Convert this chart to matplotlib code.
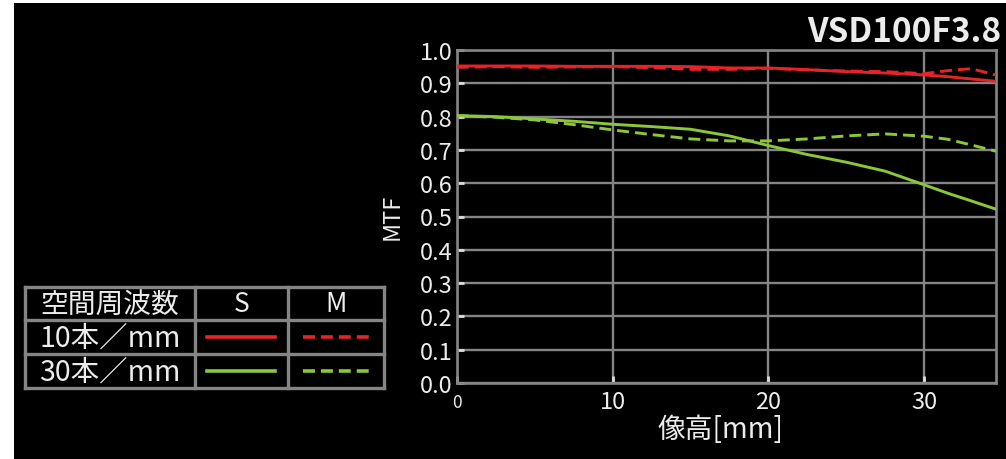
import matplotlib
matplotlib.use("Agg")
import matplotlib.pyplot as plt
from matplotlib.patches import Rectangle

plt.rcParams['font.family'] = ['Noto Sans CJK JP', 'DejaVu Sans']
plt.rcParams['lines.scale_dashes'] = False

# Image height [mm] and MTF values
image_height = [0, 2.5, 5, 7.5, 10, 12.5, 15, 17.5, 20, 22.5, 25, 27.5, 30, 31.5, 33, 34.6]
mtf10_s = [0.952, 0.952, 0.952, 0.951, 0.951, 0.951, 0.950, 0.946, 0.946, 0.941,
           0.935, 0.931, 0.925, 0.920, 0.913, 0.906]
mtf10_m = [0.948, 0.950, 0.948, 0.949, 0.950, 0.947, 0.942, 0.942, 0.945, 0.940,
           0.937, 0.935, 0.929, 0.938, 0.944, 0.925]
mtf30_s = [0.803, 0.800, 0.793, 0.786, 0.777, 0.770, 0.762, 0.742, 0.713, 0.686,
           0.663, 0.636, 0.595, 0.570, 0.547, 0.522]
mtf30_m = [0.803, 0.798, 0.790, 0.776, 0.760, 0.746, 0.733, 0.727, 0.727, 0.733,
           0.742, 0.748, 0.741, 0.732, 0.715, 0.696]

x_ticks = [0, 10, 20, 30]
x_tick_labels = ['', '10', '20', '30']
y_ticks = [0.0, 0.1, 0.2, 0.3, 0.4, 0.5, 0.6, 0.7, 0.8, 0.9, 1.0]
y_tick_labels = ['0.0', '0.1', '0.2', '0.3', '0.4', '0.5', '0.6', '0.7', '0.8', '0.9', '1.0']

title = 'VSD100F3.8'
legend_header = ['空間周波数', 'S', 'M']
legend_rows = ['10本／mm', '30本／mm']

RED = '#e5232a'
GREEN = '#8cc63a'
GRID = '#858585'
TEXT = '#ececec'
DASH = (0, (8.6, 4.3))

W, H = 1006, 460
fig = plt.figure(figsize=(W / 100, H / 100), dpi=100, facecolor='white')

# black panel (thin white margin on the left and top)
fig.patches.append(Rectangle((14 / W, 0), 1 - 14 / W, 1 - 4 / H, transform=fig.transFigure,
                             facecolor='black', edgecolor='none', zorder=-10))

ax = fig.add_axes([456.7 / W, 1 - 384 / H, (996 - 456.7) / W, (384 - 51) / H])
ax.set_facecolor('black')
ax.set_xlim(0, 34.6)
ax.set_ylim(0, 1.0)

ax.plot(image_height, mtf10_s, color=RED, lw=2.1, zorder=4)
ax.plot(image_height, mtf10_m, color=RED, lw=2.1, ls=DASH, zorder=4)
ax.plot(image_height, mtf30_s, color=GREEN, lw=2.1, zorder=4)
ax.plot(image_height, mtf30_m, color=GREEN, lw=2.1, ls=DASH, zorder=4)

ax.set_xticks(x_ticks)
ax.set_xticklabels(x_tick_labels)
ax.set_yticks(y_ticks)
ax.set_yticklabels(y_tick_labels)
ax.grid(True, color=GRID, lw=1.7, zorder=1)
ax.set_axisbelow(True)
for s in ax.spines.values():
    s.set_color(GRID)
    s.set_linewidth(1.9)
ax.tick_params(axis='both', direction='in', length=5, width=2, color='#dddddd',
               labelcolor=TEXT, labelsize=17)
ax.tick_params(axis='x', pad=5)
ax.tick_params(axis='y', pad=3)
ax.annotate('0', xy=(0, 0), xycoords='data', xytext=(0, -7), textcoords='offset points',
            ha='center', va='top', fontsize=12.5, color=TEXT)

fig.text(392 / W, 1 - 217 / H, 'MTF', rotation=90, ha='center', va='center',
         fontsize=17, color=TEXT)
fig.text(720 / W, 1 - 430 / H, '像高[mm]', ha='center', va='center', fontsize=20, color=TEXT)
fig.text(1001 / W, 1 - 32 / H, title, ha='right', va='center', fontsize=24,
         fontweight='bold', color=TEXT)

# legend table drawn in pixel coordinates
lx = fig.add_axes([0, 0, 1, 1], facecolor='none')
lx.set_xlim(0, W)
lx.set_ylim(H, 0)
lx.axis('off')
cols = [25, 195, 288, 384]
rows = [288, 321, 355, 389]
for c in cols:
    lx.plot([c, c], [rows[0], rows[-1]], color=GRID, lw=2.4, solid_capstyle='projecting')
for r in rows:
    lx.plot([cols[0], cols[-1]], [r, r], color=GRID, lw=2.4, solid_capstyle='projecting')
ccol = [(cols[i] + cols[i + 1]) / 2 for i in range(3)]
crow = [(rows[i] + rows[i + 1]) / 2 for i in range(3)]
lx.text(ccol[0], crow[0], legend_header[0], ha='center', va='center', fontsize=20, color=TEXT)
lx.text(ccol[1], crow[0], legend_header[1], ha='center', va='center', fontsize=19, color=TEXT)
lx.text(ccol[2], crow[0], legend_header[2], ha='center', va='center', fontsize=19, color=TEXT)
for i, (lab, col) in enumerate(zip(legend_rows, [RED, GREEN])):
    y = crow[i + 1]
    lx.text(ccol[0], y + 1, lab, ha='center', va='center', fontsize=20.5, color=TEXT)
    lx.plot([207, 275], [y, y], color=col, lw=2.6)
    lx.plot([303, 369], [y, y], color=col, lw=2.6, ls=(0, (8.6, 4.3)))

fig.savefig('out.png', dpi=100, facecolor=fig.get_facecolor())
